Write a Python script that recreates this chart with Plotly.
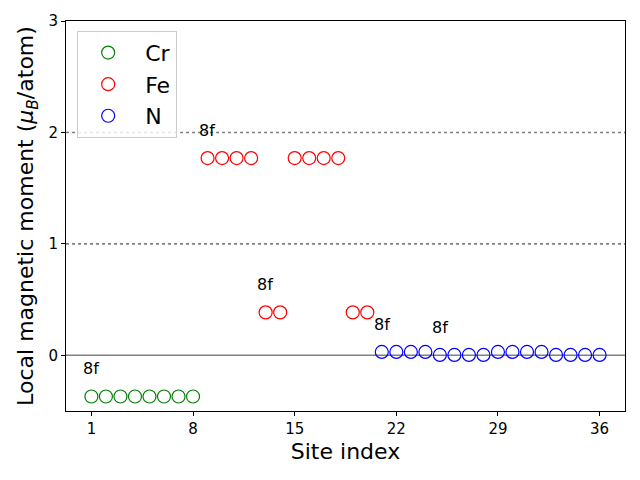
import plotly.graph_objects as go

cr_sites = [1, 2, 3, 4, 5, 6, 7, 8]
cr_moments = [-0.37] * 8
fe_sites = [9, 10, 11, 12, 13, 14, 15, 16, 17, 18, 19, 20]
fe_moments = [1.77, 1.77, 1.77, 1.77, 0.385, 0.385, 1.77, 1.77, 1.77, 1.77, 0.385, 0.385]
n_sites = list(range(21, 37))
n_moments = [0.03, 0.03, 0.03, 0.03, 0.003, 0.003, 0.003, 0.003,
             0.03, 0.03, 0.03, 0.03, 0.003, 0.003, 0.003, 0.003]
label_sites = [1, 9, 13, 21, 25]
label_moments = [-0.37, 1.77, 0.385, 0.03, 0.003]
label_text = ["8f", "8f", "8f", "8f", "8f"]
x_ticks = [1, 8, 15, 22, 29, 36]
y_ticks = [0, 1, 2, 3]

fig = go.Figure()
for name, xs, ys, col in [("Cr", cr_sites, cr_moments, "green"),
                          ("Fe", fe_sites, fe_moments, "red"),
                          ("N", n_sites, n_moments, "blue")]:
    fig.add_trace(go.Scatter(
        x=xs, y=ys, mode="markers", name=" " + name, legendgroup=name,
        marker=dict(symbol="circle-open", size=13, color=col, line=dict(width=1.2, color=col)),
    ))

# reference lines
fig.add_hline(y=0, line=dict(color="#808080", width=1.6), layer="below")
for yv in [1, 2]:
    fig.add_hline(y=yv, line=dict(color="#808080", width=1.6, dash="dot"), layer="below")

for xs, ys, t in zip(label_sites, label_moments, label_text):
    fig.add_annotation(x=xs - 0.7, y=ys + 0.25, text=t, showarrow=False,
                       xanchor="left", yanchor="middle",
                       font=dict(size=16, color="black", family="DejaVu Sans"))

axis_common = dict(showline=True, linecolor="black", linewidth=1, mirror=True,
                   ticks="outside", ticklen=4, tickcolor="black", showgrid=False,
                   zeroline=False, tickfont=dict(size=15, color="black"))

fig.update_layout(
    width=640, height=480,
    margin=dict(l=66, r=15, t=21, b=69),
    plot_bgcolor="white", paper_bgcolor="white",
    font=dict(family="DejaVu Sans", color="black"),
    xaxis=dict(range=[-0.75, 37.75], tickvals=x_ticks,
               title=dict(text="Site index", font=dict(size=22), standoff=6), **axis_common),
    yaxis=dict(range=[-0.5, 3], tickvals=y_ticks,
               title=dict(text="Local magnetic moment (<i>μ<sub>B</sub></i>/atom)", font=dict(size=22), standoff=8),
               **axis_common),
    legend=dict(x=0.02, y=0.975, xanchor="left", yanchor="top",
                bgcolor="rgba(255,255,255,0.8)", bordercolor="#cccccc", borderwidth=1,
                font=dict(size=22), tracegroupgap=0, itemwidth=50),
    showlegend=True,
)

fig.write_html("out.html")
